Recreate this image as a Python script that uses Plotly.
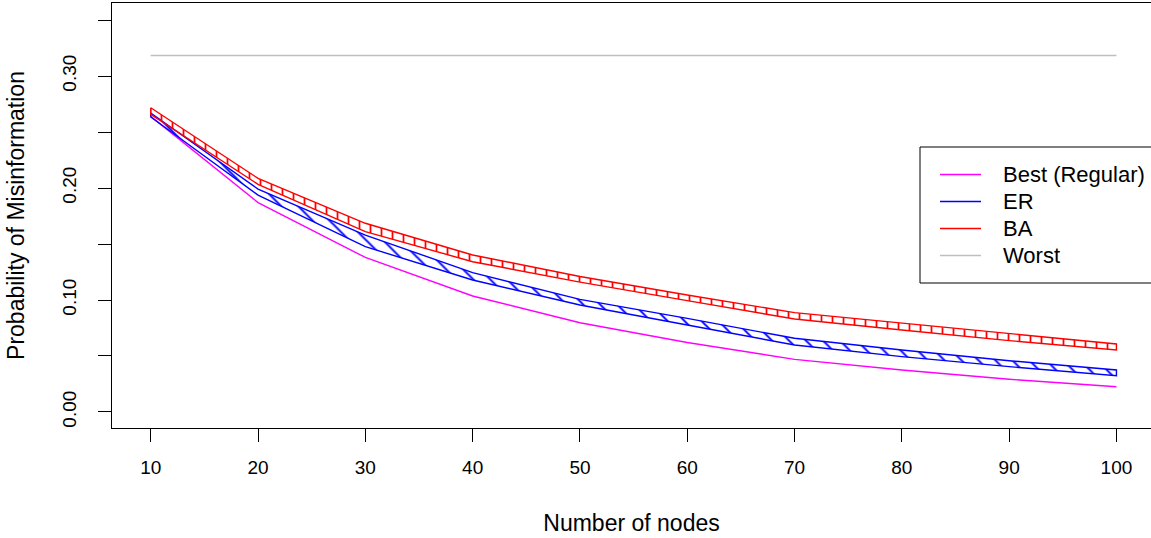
import plotly.graph_objects as go

nodes = [10, 20, 30, 40, 50, 60, 70, 80, 90, 100]
best = [0.264, 0.187, 0.138, 0.1036, 0.0797, 0.062, 0.047, 0.0375, 0.0292, 0.0225]
er_hi = [0.267, 0.199, 0.158, 0.1244, 0.1006, 0.0836, 0.0658, 0.0554, 0.0458, 0.0375]
er_lo = [0.2634, 0.1937, 0.1476, 0.1179, 0.0955, 0.0777, 0.0598, 0.0494, 0.0405, 0.0324]
ba_hi = [0.2717, 0.2086, 0.1685, 0.1402, 0.121, 0.1045, 0.0887, 0.0792, 0.0696, 0.0607]
ba_lo = [0.2658, 0.2033, 0.161, 0.1342, 0.116, 0.0994, 0.083, 0.0732, 0.0637, 0.0554]
worst_value = 0.3183
y_tickvals = [0.0, 0.05, 0.10, 0.15, 0.20, 0.25, 0.30, 0.35]
y_ticktext = ["0.00", "", "0.10", "", "0.20", "", "0.30", ""]
legend_names = ["Best (Regular)", "ER", "BA", "Worst"]
legend_colors = ["#FF00FF", "#0000FF", "#FF0000", "#BEBEBE"]

FONT = "Liberation Sans, Arial, sans-serif"
AX_FS = 19
LEG_FS = 22

W, H = 1151, 538
ML, MR, MT, MB = 112, 0, 3, 110
PW, PH = W - ML - MR, H - MT - MB

def px(x):
    return (x - ML) / PW

def py(y):
    return (H - MB - y) / PH

fig = go.Figure()

fig.add_trace(go.Scatter(x=nodes, y=best, mode="lines", line=dict(color="#FF00FF", width=1.4),
                         showlegend=False, hoverinfo="skip"))

def band(hi, lo, color, shape, size):
    xs = nodes + nodes[::-1] + [nodes[0]]
    ys = hi + lo[::-1] + [hi[0]]
    return go.Scatter(x=xs, y=ys, mode="lines", fill="toself",
                      fillcolor="rgba(0,0,0,0)",
                      fillpattern=dict(shape=shape, size=size, solidity=0.16,
                                       fgcolor=color, bgcolor="rgba(0,0,0,0)", fgopacity=1),
                      line=dict(color=color, width=1.4), showlegend=False, hoverinfo="skip")

fig.add_trace(band(er_hi, er_lo, "#0000FF", "\\", 12))
fig.add_trace(band(ba_hi, ba_lo, "#FF0000", "|", 11))

fig.add_trace(go.Scatter(x=[nodes[0], nodes[-1]], y=[worst_value, worst_value], mode="lines",
                         line=dict(color="#BEBEBE", width=1.4), showlegend=False, hoverinfo="skip"))

# manual legend (R style)
shapes = [dict(type="rect", xref="paper", yref="paper", x0=px(920), x1=px(1170),
               y0=py(283), y1=py(147), line=dict(color="black", width=1),
               fillcolor="white", layer="above")]
annotations = []
row_y = [174.5, 201.5, 228.5, 255.5]
for name, col, ry in zip(legend_names, legend_colors, row_y):
    shapes.append(dict(type="line", xref="paper", yref="paper", x0=px(940), x1=px(981),
                       y0=py(ry), y1=py(ry), line=dict(color=col, width=1.4), layer="above"))
    annotations.append(dict(text=name, xref="paper", yref="paper", x=px(1001), y=py(ry),
                            xanchor="left", yanchor="middle", showarrow=False,
                            font=dict(size=LEG_FS, family=FONT, color="black")))

fig.update_layout(
    width=W, height=H,
    margin=dict(l=ML, r=MR, t=MT, b=MB),
    paper_bgcolor="white", plot_bgcolor="white",
    font=dict(family=FONT, size=AX_FS, color="black"),
    showlegend=False,
    shapes=shapes, annotations=annotations,
    xaxis=dict(range=[6.39, 103.22], tickmode="array", tickvals=nodes,
               ticks="outside", ticklen=13, tickwidth=1, tickcolor="black",
               showline=True, linecolor="black", linewidth=1, mirror=True,
               showgrid=False, zeroline=False, ticklabelstandoff=9,
               title=dict(text="Number of nodes", standoff=38),
               tickfont=dict(size=AX_FS)),
    yaxis=dict(range=[-0.0143, 0.3652], tickmode="array", tickvals=y_tickvals,
               ticktext=y_ticktext, tickangle=-90,
               ticks="outside", ticklen=13, tickwidth=1, tickcolor="black",
               showline=True, linecolor="black", linewidth=1, mirror=False,
               showgrid=False, zeroline=False, ticklabelstandoff=14,
               title=dict(text="Probability of Misinformation", standoff=28),
               tickfont=dict(size=AX_FS)),
)

fig.write_html("out.html")
